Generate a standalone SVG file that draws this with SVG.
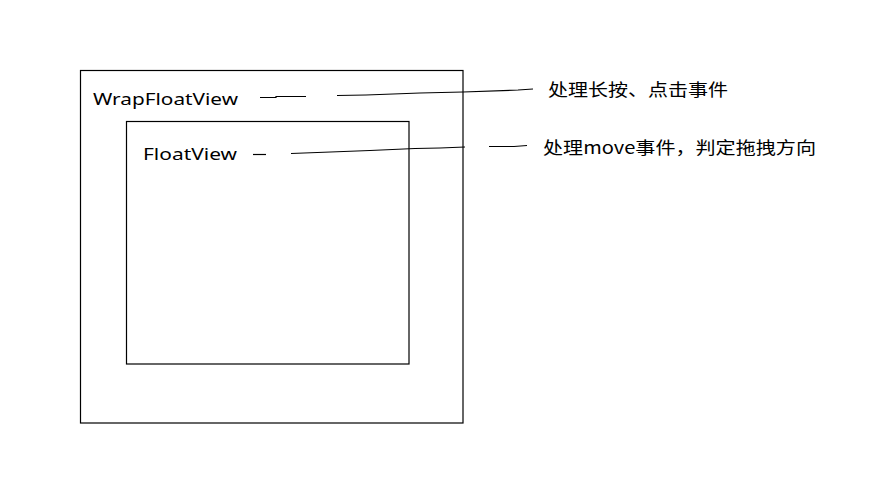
<svg xmlns="http://www.w3.org/2000/svg" width="889" height="496" viewBox="0 0 889 496">
<style>
.box{fill:none;stroke:#000;stroke-width:1.2}
.lbl{font-family:"Noto Sans","Liberation Sans",sans-serif;font-size:17px;fill:#000}
.cn{font-family:"Noto Sans CJK SC","Liberation Sans",sans-serif;font-size:17px;fill:#000}
.ln{fill:none;stroke:#000;stroke-width:1.2}
</style>
<rect width="889" height="496" fill="#fff"/>
<g id="wrapFloatView">
<rect class="box" x="80.5" y="70.5" width="382.5" height="352.5"/>
<text class="lbl" x="93" y="105" textLength="145" lengthAdjust="spacingAndGlyphs">WrapFloatView</text>
</g>
<g id="floatView">
<rect class="box" x="126.5" y="121.5" width="282.5" height="242.5"/>
<text class="lbl" x="143" y="160" textLength="94" lengthAdjust="spacingAndGlyphs">FloatView</text>
</g>
<g id="label1">
<text class="cn" x="548" y="96" textLength="180" lengthAdjust="spacingAndGlyphs">处理长按、点击事件</text>
</g>
<g id="label2">
<text class="cn" x="543" y="154" textLength="273" lengthAdjust="spacingAndGlyphs">处理move事件，判定拖拽方向</text>
</g>
<g id="connectors">
<polyline class="ln" points="260,97.5 276,97.5 276,96.5 306,96.5"/>
<polyline class="ln" points="337,95.5 366,95 420,93 463,92 518,90 533,89"/>
<polyline class="ln" points="253,154.5 266,154.5"/>
<polyline class="ln" points="291,153.5 370,150.5 415,148.5 440,148 465,147"/>
<polyline class="ln" points="489,146.5 514,146.5 527,145.5"/>
</g>
</svg>
